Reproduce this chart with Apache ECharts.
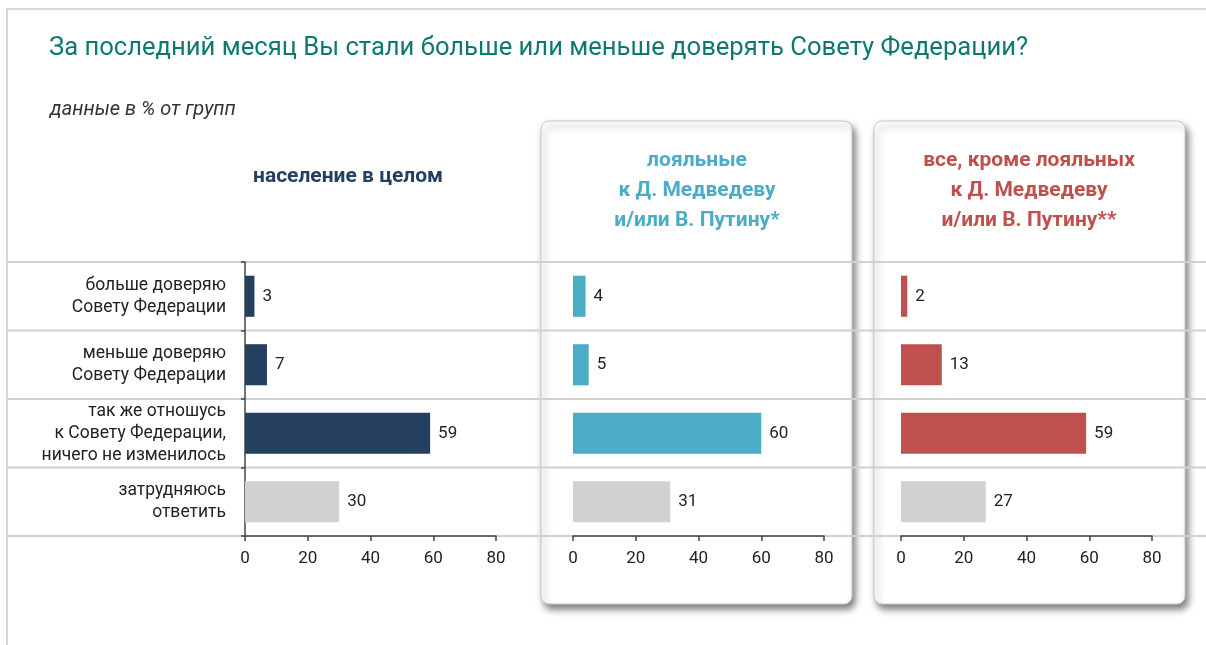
<!DOCTYPE html>
<html>
<head>
<meta charset="utf-8">
<script src="https://cdn.jsdelivr.net/npm/echarts@6/dist/echarts.min.js"></script>
<style>
html, body { margin: 0; padding: 0; background: #fff; }
#chart { width: 1206px; height: 645px; }
</style>
</head>
<body>
<div id="chart"></div>
<script>
// данные
const categories = [
    'больше доверяю\nСовету Федерации',
    'меньше доверяю\nСовету Федерации',
    'так же отношусь\nк Совету Федерации,\nничего не изменилось',
    'затрудняюсь\nответить'
]
const populationValues = [3, 7, 59, 30]
const loyalValues = [4, 5, 60, 31]
const othersValues = [2, 13, 59, 27]
const groupNames = [
    'население в целом',
    'лояльные\nк Д. Медведеву\nи/или В. Путину*',
    'все, кроме лояльных\nк Д. Медведеву\nи/или В. Путину**'
]
const valueTicks = [0, 20, 40, 60, 80]
const titleText = 'За последний месяц Вы стали больше или меньше доверять Совету Федерации?'
const subtitleText = 'данные в % от групп'

// оформление
const FONT = 'Roboto, "Open Sans", sans-serif'
const groupColors = ['#243f60', '#4bacc6', '#c0504d']
const otherColor = '#d0d1d3'
const gridLefts = [245, 573, 901]
const gridWidth = 251
const gridTop = 262
const gridHeight = 274
const headerX = [348, 697, 1029]

const chart = echarts.init(document.getElementById('chart'))

const seriesData = [populationValues, loyalValues, othersValues]

const grids = gridLefts.map(left => ({
    left: left,
    top: gridTop,
    width: gridWidth,
    height: gridHeight
}))

const xAxes = gridLefts.map((left, i) => ({
    type: 'value',
    gridIndex: i,
    min: valueTicks[0],
    max: valueTicks[valueTicks.length - 1],
    interval: valueTicks[1] - valueTicks[0],
    z: 5,
    axisLine: { show: true, lineStyle: { color: '#444', width: 1.5 } },
    axisTick: { show: true, length: 5, lineStyle: { color: '#444', width: 1.5 } },
    axisLabel: { fontFamily: FONT, fontSize: 17, color: '#222', margin: 14 },
    splitLine: { show: false }
}))

const yAxes = gridLefts.map((left, i) => ({
    type: 'category',
    gridIndex: i,
    inverse: true,
    data: categories,
    z: 5,
    axisLine: { show: i === 0, lineStyle: { color: '#444', width: 1.5 } },
    axisTick: { show: i === 0, length: 4, lineStyle: { color: '#444', width: 1.5 } },
    axisLabel: {
        show: i === 0,
        fontFamily: FONT,
        fontSize: 17.5,
        lineHeight: 22,
        color: '#222',
        align: 'right',
        margin: 19
    },
    splitLine: { show: false }
}))

const series = seriesData.map((values, i) => ({
    type: 'bar',
    xAxisIndex: i,
    yAxisIndex: i,
    barWidth: '60%',
    z: 6,
    data: values.map((v, k) => ({
        value: v,
        itemStyle: { color: k === values.length - 1 ? otherColor : groupColors[i] }
    })),
    label: {
        show: true,
        position: 'right',
        distance: 8,
        fontFamily: FONT,
        fontSize: 17,
        color: '#222'
    }
}))

// карточки, рамка, разделители
const graphics = []
graphics.push({
    type: 'polyline',
    z: 0,
    shape: { points: [[7, 645], [7, 9], [1206, 9]] },
    style: { stroke: '#d9d9d9', lineWidth: 2, fill: null }
})
;[541, 874].forEach(x => {
    graphics.push({
        type: 'rect',
        z: 1,
        shape: { x: x, y: 121, width: 311, height: 483, r: 8 },
        style: {
            fill: '#fff',
            stroke: '#c8c8c8',
            lineWidth: 1,
            shadowBlur: 7,
            shadowOffsetX: 3,
            shadowOffsetY: 5,
            shadowColor: 'rgba(0,0,0,0.5)'
        }
    })
})
const rowH = gridHeight / categories.length
for (let k = 0; k <= categories.length; k++) {
    const y = gridTop + k * rowH
    graphics.push({
        type: 'line',
        z: 2,
        shape: { x1: 7, y1: y, x2: 1206, y2: y },
        style: { stroke: '#d0d0d0', lineWidth: 2 }
    })
}
groupNames.forEach((name, i) => {
    graphics.push({
        type: 'text',
        z: 3,
        x: headerX[i],
        y: i === 0 ? 177 : 191,
        style: {
            text: name,
            fill: groupColors[i],
            font: 'bold 21px ' + FONT,
            lineHeight: 30,
            textAlign: 'center',
            textVerticalAlign: 'middle'
        }
    })
})

const option = {
    animation: false,
    backgroundColor: '#fff',
    title: [
        {
            text: titleText,
            left: 44,
            top: 31,
            textStyle: { fontFamily: FONT, fontSize: 25.6, fontWeight: 'normal', color: '#0e7a6d' }
        },
        {
            text: subtitleText,
            left: 45,
            top: 95,
            textStyle: { fontFamily: FONT, fontSize: 20, fontStyle: 'italic', fontWeight: 'normal', color: '#333' }
        }
    ],
    grid: grids,
    xAxis: xAxes,
    yAxis: yAxes,
    series: series,
    graphic: graphics
}

chart.setOption(option)
</script>
</body>
</html>
